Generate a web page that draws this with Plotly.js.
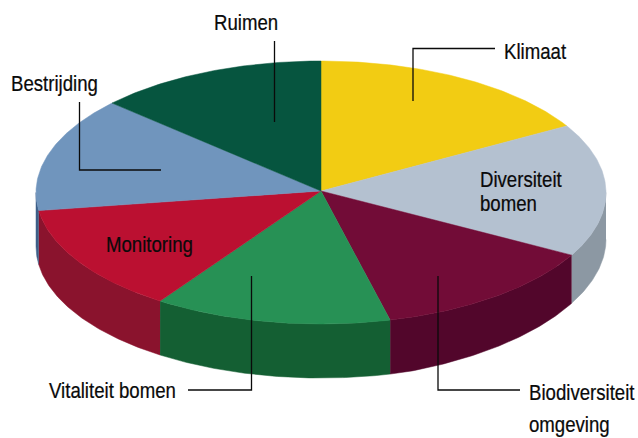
<!DOCTYPE html>
<html>
<head>
<meta charset="utf-8">
<script src="https://cdn.plot.ly/plotly-3.0.1.min.js"></script>
<style>html,body{margin:0;padding:0;background:#fff}</style>
</head>
<body>
<div id="chart" style="width:638px;height:438px"></div>
<script>
// Data (share of the pie, percent, clockwise from 12 o'clock)
const categories = ["Klimaat","Diversiteit bomen","Biodiversiteit omgeving","Vitaliteit bomen","Monitoring","Bestrijding","Ruimen"];
const shares = [16.55,16.35,13.2,13.45,13.25,14.1,13.1];
const topColors = ["#f2cc13","#b4c1d0","#720c37","#279155","#bb1031","#7095bd","#06553f"];
const wallColors = ["#c9a90f","#8c98a3","#52062b","#145f33","#8a132d","#3d5f88","#044030"];

// Projection of the tilted disc
const cx = 321, cy = 192.5, rx = 285, ry = 131.5, hubY = 191;
const wallDepth = t => 54 - 10 * Math.max(0, Math.sin(t) - 0.3);
const px = t => cx + rx * Math.sin(t);
const py = t => cy - ry * Math.cos(t);
const arc = (a, b) => { const o = []; const n = Math.max(2, Math.ceil(Math.abs(b - a) / 0.01)); for (let i = 0; i <= n; i++) o.push(a + (b - a) * i / n); return o; };

const total = shares.reduce((s, v) => s + v, 0);
const traces = [], tops = [];
let acc = 0;
shares.forEach((v, i) => {
  const a = acc / total * 2 * Math.PI; acc += v;
  const b = acc / total * 2 * Math.PI;
  const pct = (v / total * 100).toFixed(1) + "%";
  // front wall: only the part of the arc on the near half of the disc
  const wa = Math.max(a, Math.PI / 2), wb = Math.min(b, 3 * Math.PI / 2);
  if (wb > wa) {
    const ts = arc(wa, wb), back = ts.slice().reverse();
    traces.push({
      type: "scatter", mode: "lines", fill: "toself", fillcolor: wallColors[i],
      line: {color: wallColors[i], width: 0.5}, hoverinfo: "skip", showlegend: false,
      x: ts.map(px).concat(back.map(px)),
      y: ts.map(py).concat(back.map(t => py(t) + wallDepth(t)))
    });
  }
  const ts = arc(a, b);
  tops.push({
    type: "scatter", mode: "lines", fill: "toself", fillcolor: topColors[i], name: categories[i],
    line: {color: topColors[i], width: 0.5}, hoverinfo: "text", text: categories[i] + " " + pct, showlegend: false,
    x: [cx].concat(ts.map(px), [cx]),
    y: [hubY].concat(ts.map(py), [hubY])
  });
});

const leader = pts => ({
  type: "path", xref: "x", yref: "y",
  path: pts.map((p, i) => (i ? "L" : "M") + p[0] + "," + p[1]).join(" "),
  line: {color: "#0a0a0a", width: 1.3}
});
const shapes = [
  [[274.5,41],[274.5,122]],
  [[79.5,102],[79.5,170],[161,170]],
  [[495,48.5],[413,48.5],[413,101]],
  [[188,390],[251.5,390],[251.5,276]],
  [[520,390],[438,390],[438,276]]
].map(leader);

const label = (text, x, y) => ({
  text, x, y, xref: "x", yref: "y", xanchor: "left", yanchor: "middle", showarrow: false,
  align: "left", borderpad: 0, font: {family: "'Liberation Sans',sans-serif", size: 23, color: "#0a0a0a"}
});
const annotations = [
  label("Ruimen", 213, 22),
  label("Klimaat", 503, 51),
  label("Bestrijding", 10, 83),
  label("Diversiteit", 479, 179),
  label("bomen", 479, 203),
  label("Monitoring", 105, 244),
  label("Vitaliteit bomen", 48, 390),
  label("Biodiversiteit", 528, 392),
  label("omgeving", 528, 424)
];

Plotly.newPlot("chart", traces.concat(tops), {
  width: 638, height: 438,
  margin: {l: 0, r: 0, t: 0, b: 0},
  paper_bgcolor: "#fff", plot_bgcolor: "#fff",
  xaxis: {range: [0, 638], visible: false, fixedrange: true},
  yaxis: {range: [438, 0], visible: false, fixedrange: true},
  showlegend: false, shapes, annotations
}, {displayModeBar: false, staticPlot: true}).then(() => {
  // The reference uses a condensed face: narrow the real text elements horizontally
  document.querySelectorAll("#chart .annotation-text-g text").forEach(el => {
    const a = el.getBBox().x;
    el.setAttribute("transform", `translate(${a} 0) scale(0.81 1) translate(${-a} 0)`);
    el.style.stroke = "#0a0a0a";
    el.style.strokeWidth = "0.25px";
  });
});
</script>
</body>
</html>
